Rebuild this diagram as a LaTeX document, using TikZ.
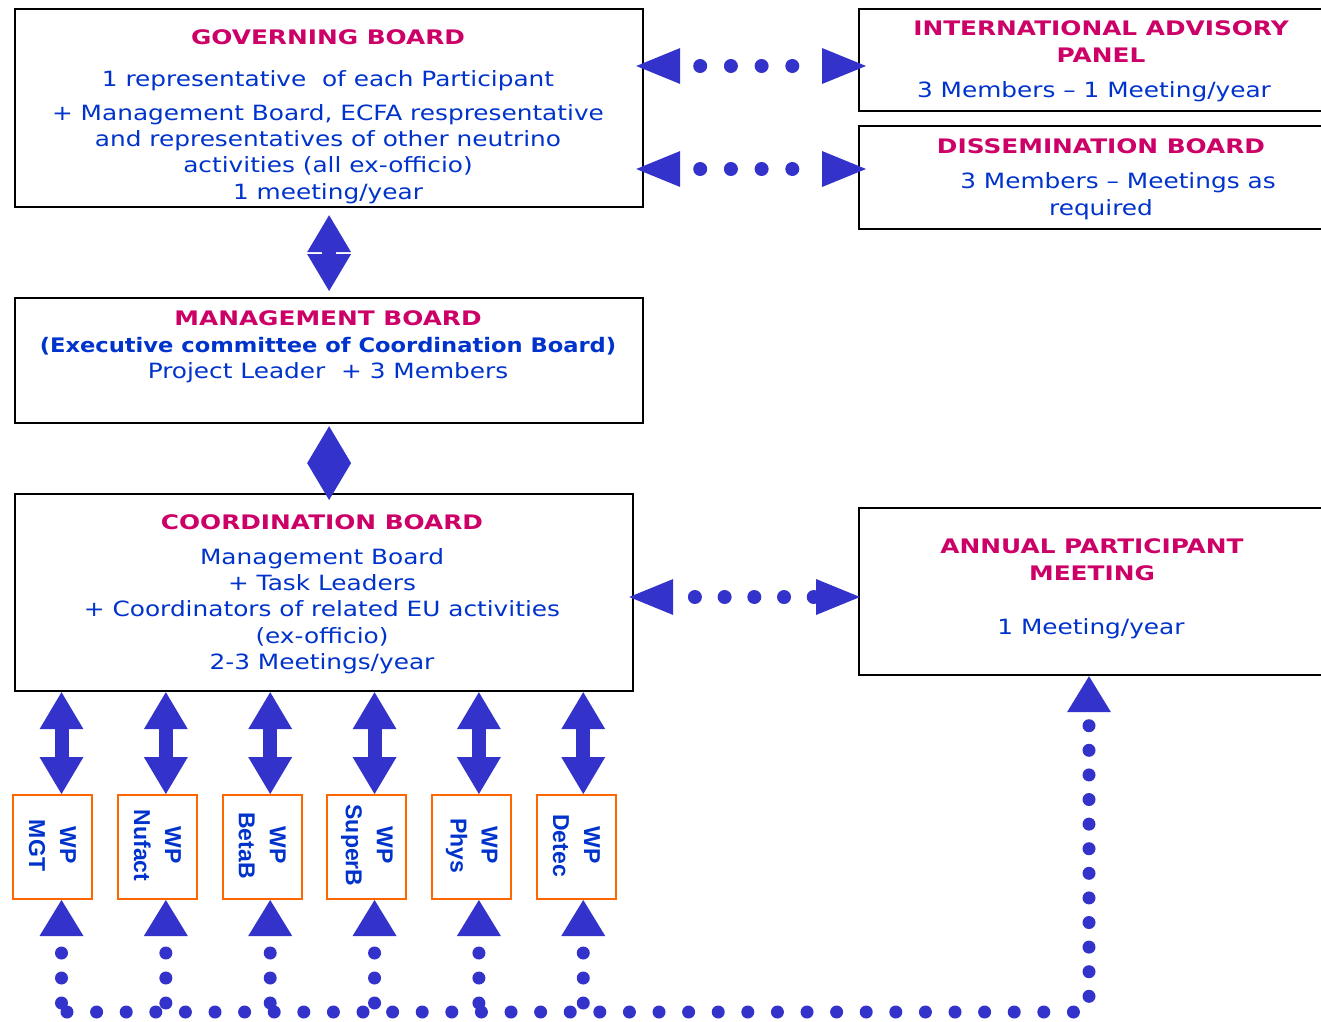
\documentclass[tikz,border=0pt]{standalone}
\usepackage{fontspec}
\setmainfont[FakeStretch=1.18]{DejaVu Sans}
\newfontfamily\ttlfont[FakeStretch=1.24]{DejaVu Sans}
\newfontfamily\exfont[FakeStretch=1.13]{DejaVu Sans}
\newfontfamily\wpfont{Liberation Sans}
\usetikzlibrary{arrows.meta,calc}
\definecolor{arrblue}{RGB}{51,51,204}
\definecolor{txtblue}{RGB}{0,51,204}
\definecolor{ttlred}{RGB}{204,0,102}
\definecolor{wporange}{RGB}{255,102,0}
\tikzset{
  bigtip/.tip={Triangle[length=37pt 0 0,width=44pt 0 0,line width=0pt]},
  sidetip/.tip={Triangle[length=44pt 0 0,width=36pt 0 0,line width=0pt]},
  uptip/.tip={Triangle[length=36pt 0 0,width=44pt 0 0,line width=0pt]},
}
\begin{document}
\begin{tikzpicture}[x=1pt,y=-1pt,
  board/.style={draw=black,line width=2.2pt,anchor=north west,inner sep=0pt,fill=white},
  ttl/.style={text=ttlred,font=\ttlfont\fontsize{20}{27}\selectfont\bfseries,align=center},
  txt/.style={text=txtblue,font=\fontsize{21}{26.3}\selectfont,align=center,yshift=-2.5pt},
  wpbox/.style={draw=wporange,line width=2pt,anchor=north west,minimum width=79pt,minimum height=104pt,inner sep=0pt},
  wptext/.style={text=txtblue,font=\wpfont\bfseries\fontsize{23}{31}\selectfont,align=center,rotate=-90,xshift=-1.5pt},
  fat/.style={arrblue,line width=14pt,bigtip-bigtip},
  dotconn/.style={arrblue,line width=14pt,line cap=round,dash pattern=on 0pt off 30.7pt,dash phase=10.7pt,sidetip-sidetip,shorten <=-8pt,shorten >=-8pt},
  dotv/.style={arrblue,line width=13pt,line cap=round,dash pattern=on 0pt off 25pt,-uptip},
  doth/.style={arrblue,line width=13pt,line cap=round,dash pattern=on 0pt off 29.6pt},
  dotr/.style={arrblue,line width=13pt,line cap=round,dash pattern=on 0pt off 24.6pt,-uptip},
]
\useasboundingbox (0,0) rectangle (1321,1021);
\fill[white] (0,0) rectangle (1321,1021);

% boards
\node[board,minimum width=628pt,minimum height=198pt] (gb) at (14,8) {};
\node[board,minimum width=480pt,minimum height=102pt] (iap) at (858,8) {};
\node[board,minimum width=480pt,minimum height=103pt] (db) at (858,125) {};
\node[board,minimum width=628pt,minimum height=125pt] (mb) at (14,297) {};
\node[board,minimum width=618pt,minimum height=197pt] (cb) at (14,493) {};
\node[board,minimum width=480pt,minimum height=167pt] (apm) at (858,507) {};

% texts
\node[ttl] (gbt) at (328,37) {GOVERNING BOARD};
\node[txt] (gb1) at (328,78) {1 representative \ of each Participant};
\node[txt] (gb2) at (328,151.5) {+ Management Board, ECFA respresentative\\and representatives of other neutrino\\activities (all ex-officio)\\1 meeting/year};

\node[ttl] (iapt) at (1101,41.5) {INTERNATIONAL ADVISORY\\PANEL};
\node[txt] (iap1) at (1094,89) {3 Members – 1 Meeting/year};

\node[ttl] (dbt) at (1101,146) {DISSEMINATION BOARD};
\node[txt] (db1) at (1118,180) {3 Members – Meetings as};
\node[txt] (db2) at (1101,207) {required};

\node[ttl] (mbt) at (328,318) {MANAGEMENT BOARD};
\node[txt,font=\exfont\fontsize{20}{26}\selectfont\bfseries] (mb1) at (328,344) {(Executive committee of Coordination Board)};
\node[txt] (mb2) at (328,370) {Project Leader \ + 3 Members};

\node[ttl] (cbt) at (322,522) {COORDINATION BOARD};
\node[txt] (cb1) at (322,608.5) {Management Board\\+ Task Leaders\\+ Coordinators of related EU activities\\(ex-officio)\\2-3 Meetings/year};

\node[ttl] (apmt) at (1092,559.5) {ANNUAL PARTICIPANT\\MEETING};
\node[txt] (apm1) at (1091,626) {1 Meeting/year};

% WP boxes
\foreach \i/\lab in {0/MGT,1/Nufact,2/BetaB,3/SuperB,4/Phys,5/Detec}{
  \node[wpbox] (wp\i) at ({12+104.8*\i},794) {};
  \node[wptext] (wpt\i) at (wp\i.center) {WP\\\lab};
}

% fat arrows
\draw[fat] ([yshift=-7pt]gb.south) -- ([yshift=6pt]mb.north);
\draw[fat] ([yshift=-2pt]mb.south) -- ([yshift=-7pt]mb.south |- cb.north);
\foreach \i in {0,...,5}{
  \draw[fat] ([xshift={9-0.45*\i}]wp\i.north |- cb.south) -- ([xshift={9-0.45*\i}]wp\i.north);
  \draw[dotv] ([xshift={9-0.45*\i}]wp\i.south |- 0,1003) -- ([xshift={9-0.45*\i}]wp\i.south);
}

% dotted connectors
\draw[dotconn] (gb.east |- 0,66) -- (iap.west |- 0,66);
\draw[dotconn] (gb.east |- 0,169) -- (db.west |- 0,169);
\draw[dotconn,dash pattern=on 0pt off 29.7pt,dash phase=8pt,shorten >=-2pt,shorten <=-5pt] (cb.east |- 0,597) -- (apm.west |- 0,597);

\coordinate (h0) at (67,1012);
\coordinate (h1) at (1074,1012);
\coordinate (v0) at (1089,996.3);
\draw[doth] (h0) -- (h1);
\draw[dotr] (v0) -- (v0 |- apm.south);
\end{tikzpicture}
\end{document}
